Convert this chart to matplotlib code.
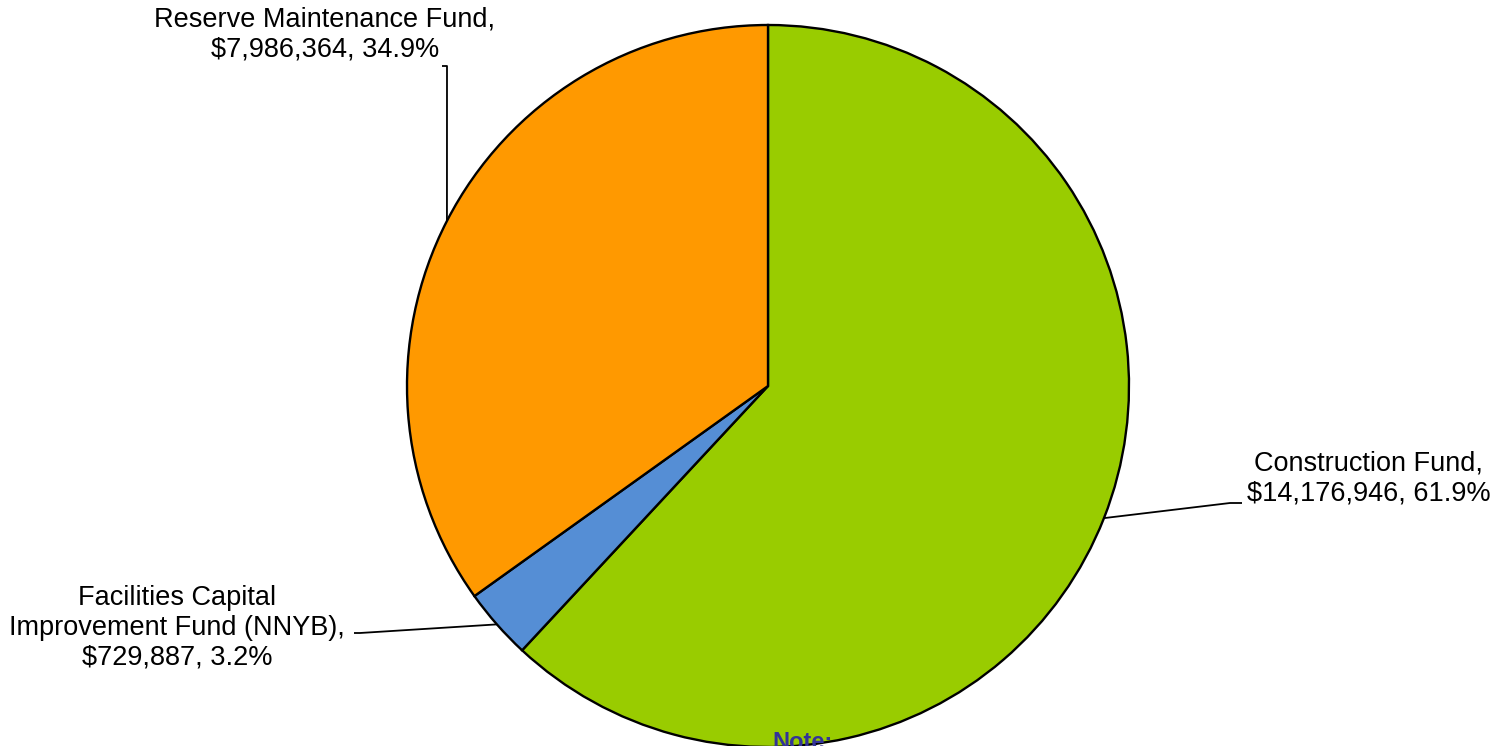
import numpy as np
import matplotlib
matplotlib.use("Agg")
import matplotlib.pyplot as plt

# ---- data ----
categories = ["Construction Fund", "Facilities Capital\nImprovement Fund (NNYB)", "Reserve Maintenance Fund"]
values = [14176946, 729887, 7986364]
colors = ["#99CC00", "#558ED5", "#FF9900"]

plt.rcParams['font.family'] = ['Liberation Sans', 'DejaVu Sans']

W, H = 1497, 746
fig = plt.figure(figsize=(W / 100, H / 100), dpi=100)
ax = fig.add_axes([0, 0, 1, 1])
ax.set_xlim(0, W)
ax.set_ylim(0, H)
ax.set_aspect('equal')
ax.axis('off')

cx, cy, r = 768, H - 386, 361
wedges, _ = ax.pie(values, colors=colors, startangle=90, counterclock=False,
                   center=(cx, cy), radius=r,
                   wedgeprops=dict(edgecolor='black', linewidth=1.7))
ax.set_xlim(0, W)
ax.set_ylim(0, H)

total = sum(values)
# label text block centres and leader elbows (pixel coords from top)
text_pos = [(1369, 479), (177, 628), (325, 34)]
elbows = [[(1230, 503), (1242, 503)],
          [(360, 633), (354, 633)],
          [(447, 66), (442, 66)]]

for w, cat, v, tp, el in zip(wedges, categories, values, text_pos, elbows):
    ang = np.deg2rad((w.theta1 + w.theta2) / 2)
    ex, ey = cx + r * np.cos(ang), cy + r * np.sin(ang)
    xs = [ex] + [p[0] for p in el]
    ys = [ey] + [H - p[1] for p in el]
    ax.plot(xs, ys, color='black', linewidth=1.3, solid_capstyle='butt')
    label = f"{cat},\n${v:,.0f}, {v / total * 100:.1f}%"
    ax.text(tp[0], H - tp[1], label, ha='center', va='center',
            fontsize=19.5, linespacing=1.2, color='black', multialignment='center')

ax.text(802, H - 749, "Note:", ha='center', va='baseline', fontsize=17,
        fontweight='bold', color='#333399')

fig.savefig("out.png", dpi=100)
